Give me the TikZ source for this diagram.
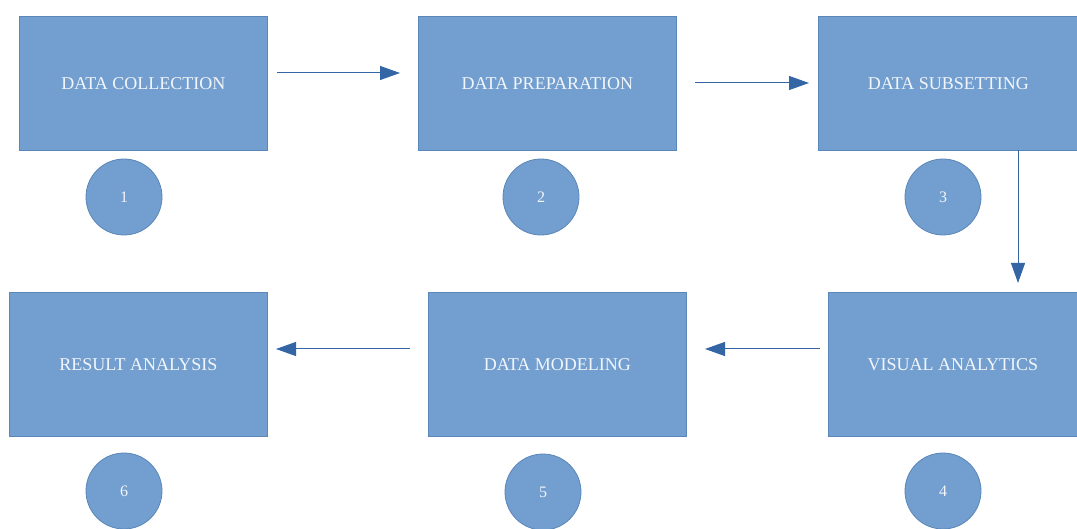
\documentclass[tikz,border=0pt]{standalone}
\usepackage{fontspec}
\setmainfont{Liberation Serif}
\usetikzlibrary{arrows.meta}
\definecolor{boxfill}{HTML}{729FCF}
\definecolor{boxline}{HTML}{5B86B8}
\definecolor{arrowcol}{HTML}{3465A4}
\definecolor{txt}{HTML}{F2F5FA}
\tikzset{
  stepbox/.style={draw=boxline, line width=0.8pt, fill=boxfill, minimum width=#1, minimum height=134pt, inner sep=0pt, text=txt, font=\fontsize{18}{21}\selectfont, anchor=north west},
  stepbox/.default=249pt,
  numdisc/.style={circle, draw=boxline, line width=0.8pt, fill=boxfill, minimum size=76pt, inner sep=0pt, text=txt, font=\fontsize{16}{18}\selectfont},
  flow/.style={draw=arrowcol, line width=1pt, -{Triangle[length=20pt,width=14pt]}}
}
\begin{document}
\begin{tikzpicture}[x=1pt,y=-1pt]
\useasboundingbox[fill=white] (0,0) rectangle (1077,529);
\node[stepbox=248pt] (b1) at (19,16) {DATA COLLECTION};
\node[stepbox=258pt] (b2) at (418,16) {DATA PREPARATION};
\node[stepbox=260pt] (b3) at (818,16) {DATA SUBSETTING};
\node[stepbox=249pt, minimum height=144pt] (b4) at (828,292) {VISUAL ANALYTICS};
\node[stepbox=258pt, minimum height=144pt] (b5) at (428,292) {DATA MODELING};
\node[stepbox=258pt, minimum height=144pt] (b6) at (9,292) {RESULT ANALYSIS};
\node[numdisc] (n1) at (124,197) {1};
\node[numdisc] (n2) at (541,197) {2};
\node[numdisc] (n3) at (943,197) {3};
\node[numdisc] (n4) at (943,491) {4};
\node[numdisc] (n5) at (543,492) {5};
\node[numdisc] (n6) at (124,491) {6};
\coordinate (a1s) at (277,73); \coordinate (a1e) at (400,73);
\coordinate (a2s) at (695,83); \coordinate (a2e) at (809,83);
\coordinate (a3s) at (1018,150); \coordinate (a3e) at (1018,283);
\coordinate (a4s) at (820,349); \coordinate (a4e) at (705,349);
\coordinate (a5s) at (410,349); \coordinate (a5e) at (276,349);
\draw[flow] (a1s) -- (a1e);
\draw[flow] (a2s) -- (a2e);
\draw[flow] (a3s) -- (a3e);
\draw[flow] (a4s) -- (a4e);
\draw[flow] (a5s) -- (a5e);
\end{tikzpicture}
\end{document}
